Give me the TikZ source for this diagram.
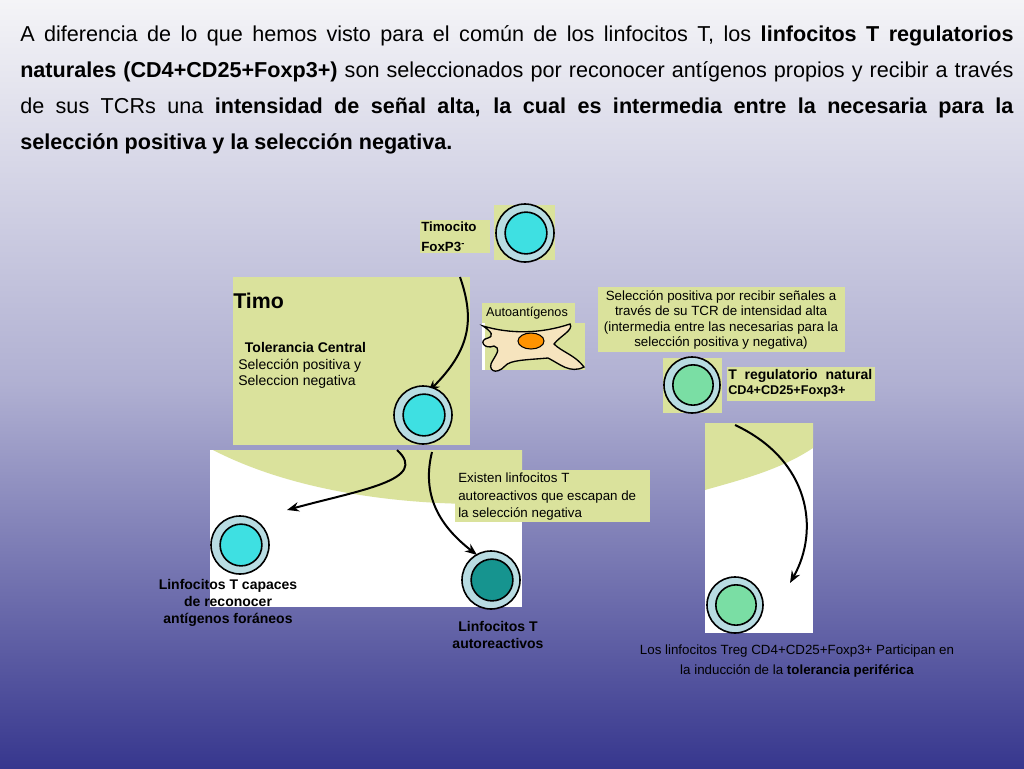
\documentclass[tikz,border=0pt]{standalone}
\usepackage{fontspec}
\setmainfont{Liberation Sans}
\usetikzlibrary{arrows.meta}
\begin{document}
\begin{tikzpicture}[x=0.75pt,y=-0.75pt,
  lab/.style={font=\fontsize{10}{11.5}\selectfont,align=center,inner sep=1pt},
  arr/.style={-{Stealth[length=9pt,width=7pt]},line width=1.5pt},
  outc/.style={fill=cellb,draw=black,line width=1.2pt},
  inc/.style={draw=black,line width=1.2pt}]
\definecolor{lg}{HTML}{DAE29C}
\definecolor{cellb}{HTML}{B8DCE2}
\definecolor{cyanc}{HTML}{3EE0E2}
\definecolor{darkc}{HTML}{16948F}
\definecolor{tregc}{HTML}{7ADEA4}
\definecolor{topc}{HTML}{F4F4F7}
\definecolor{midc}{HTML}{B0B0D2}
\definecolor{botc}{HTML}{37378E}
\useasboundingbox (0,0) rectangle (1024,768);
\shade[top color=topc,bottom color=botc,middle color=midc] (0,0) rectangle (1024,768);
\node[anchor=north west,text width=745pt,align=justify,inner sep=0pt,font=\fontsize{16.2}{27}\selectfont] (para) at (20,25)
{A diferencia de lo que hemos visto para el común de los linfocitos T, los \textbf{linfocitos T regulatorios}\linebreak\textbf{naturales (CD4+CD25+Foxp3+)} son seleccionados por reconocer antígenos propios y recibir a través\linebreak de sus TCRs una \textbf{intensidad de señal alta, la cual es intermedia entre la necesaria para la}\linebreak\textbf{selección positiva y la selección negativa.}};
% Timo
\fill[lg] (233,277) rectangle (470,445);
\fill[white] (210,450) rectangle (522,607);
\fill[lg] (213,450) .. controls (300,495) and (420,508) .. (522,503) -- (522,450) -- cycle;
\node[anchor=west,font=\fontsize{16}{18}\selectfont\bfseries,inner sep=0pt] (timo) at (233,301) {Timo};
\node[anchor=north west,font=\fontsize{10.5}{12.5}\selectfont,inner sep=0pt,align=left] (tc) at (238,342) {\hspace*{5pt}\textbf{Tolerancia Central}\\Selección positiva y\\Seleccion negativa};
% timocito
\fill[lg] (420,220) rectangle (490,253);
\node[anchor=north west,font=\fontsize{10}{14.5}\selectfont\bfseries,inner sep=0pt,align=left] (tim) at (421,222) {Timocito\\FoxP3\textsuperscript{-}};
\fill[lg] (494,205) rectangle (555,260);
\newcommand\cell[4]{%
 \draw[outc] (#1,#2) circle[radius=#3];
 \draw[inc,fill=#4] (#1+1,#2) circle[radius=#3*0.72];}
\cell{525}{233}{29}{cyanc}
\coordinate (c0) at (525,233);
\coordinate (a1) at (460,277);
\coordinate (a2) at (428,392);
\draw[arr] (a1) .. controls (475,320) and (470,350) .. (a2);
\cell{423}{415}{29}{cyanc}
% autoantigenos
\fill[lg] (482,303) rectangle (575,323);
\node[lab,font=\fontsize{9.5}{11}\selectfont] (auto) at (527,313) {Autoantígenos};
\fill[white] (482,323) rectangle (585,370);
\fill[lg] (485,323) rectangle (585,370);
\draw[fill=lg!60!orange!40!white,line width=1pt] (483,326) .. controls (510,334) and (540,334) .. (570,324)
 .. controls (574,330) and (560,336) .. (554,344) .. controls (562,352) and (575,355) .. (584,367)
 .. controls (570,374) and (560,364) .. (548,358) .. controls (525,360) and (510,360) .. (505,366)
 .. controls (496,376) and (486,370) .. (493,360) .. controls (498,352) and (500,348) .. (494,346)
 .. controls (484,350) and (478,340) .. (488,338) .. controls (494,336) and (492,332) .. cycle;
\draw[fill=orange!85!yellow,line width=0.8pt] (531,341) ellipse[x radius=13,y radius=8];
% right text
\fill[lg] (598,287) rectangle (845,352);
\node[lab] (sel) at (721,320) {Selección positiva por recibir señales a\\través de su TCR de intensidad alta\\(intermedia entre las necesarias para la\\selección positiva y negativa)};
% treg
\fill[lg] (663,358) rectangle (722,413);
\cell{692}{385}{28}{tregc}
\fill[lg] (727,367) rectangle (875,401);
\node[anchor=north west,inner sep=0pt,align=left,font=\fontsize{10.5}{12}\selectfont\bfseries] (tl) at (728,369) {T\ \ regulatorio\ \ natural\\[-1pt]{\fontsize{9.5}{11}\selectfont CD4+CD25+Foxp3+}};
% periphery
\fill[white] (705,423) rectangle (813,633);
\fill[lg] (705,423) -- (813,423) -- (813,448) .. controls (780,470) and (740,480) .. (705,490) -- cycle;
\coordinate (b1) at (735,425);
\coordinate (b2) at (790,583);
\draw[arr] (b1) .. controls (810,460) and (820,530) .. (b2);
\cell{735}{605}{28}{tregc}
\node[lab,font=\fontsize{10}{15.5}\selectfont] (los) at (797,661) {Los linfocitos Treg CD4+CD25+Foxp3+ Participan en\\la inducción de la \textbf{tolerancia periférica}};
% lower arrows
\coordinate (d1) at (397,450);
\coordinate (d2) at (287,510);
\draw[arr] (d1) .. controls (430,480) and (360,490) .. (d2);
\coordinate (e1) at (432,452);
\coordinate (e2) at (477,555);
\draw[arr] (e1) .. controls (420,500) and (445,530) .. (e2);
\cell{240}{545}{29}{cyanc}
\cell{491}{580}{29}{darkc}
\fill[lg] (455,470) rectangle (650,522);
\node[anchor=north west,inner sep=0pt,align=left,font=\fontsize{10}{12.8}\selectfont] (ex) at (458,473) {Existen linfocitos T\\autoreactivos que escapan de\\la selección negativa};
\node[lab,font=\fontsize{10.5}{12.5}\selectfont\bfseries] (l1) at (228,603) {Linfocitos T capaces\\de reconocer\\antígenos foráneos};
\node[lab,font=\fontsize{10.5}{12.5}\selectfont\bfseries] (l2) at (498,635) {Linfocitos T\\autoreactivos};
\end{tikzpicture}
\end{document}
